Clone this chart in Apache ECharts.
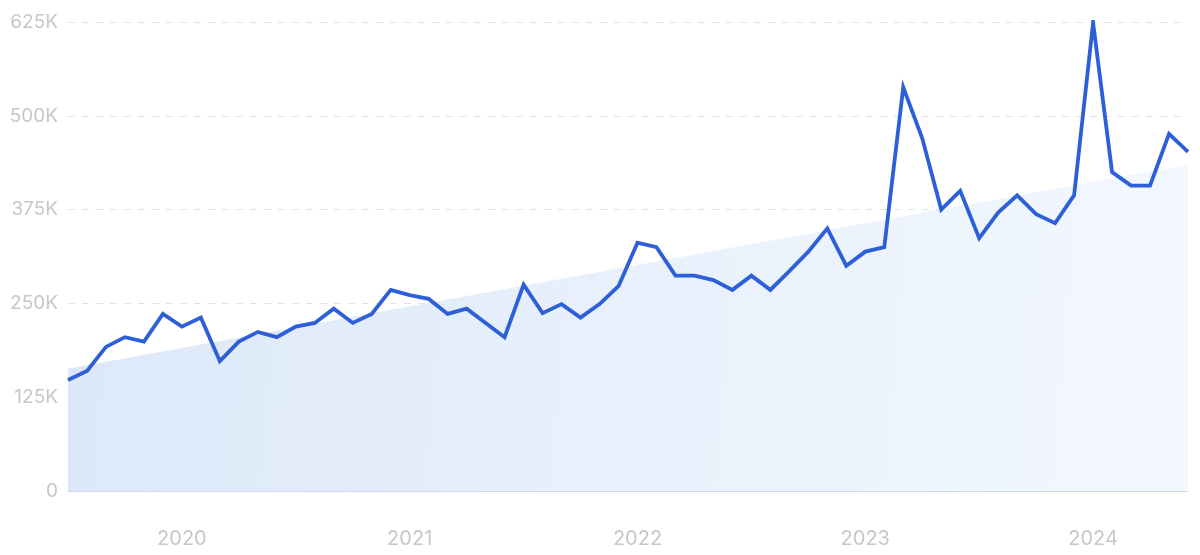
<!DOCTYPE html>
<html>
<head>
<meta charset="utf-8">
<script src="https://cdn.jsdelivr.net/npm/echarts@6/dist/echarts.min.js"></script>
<style>
html,body{margin:0;padding:0;background:#fff;}
#chart{width:1200px;height:555px;}
</style>
</head>
<body>
<div id="chart"></div>
<script>
// Months Jul 2019 .. Jun 2024
const months = [
  '2019-07','2019-08','2019-09','2019-10','2019-11','2019-12',
  '2020-01','2020-02','2020-03','2020-04','2020-05','2020-06','2020-07','2020-08','2020-09','2020-10','2020-11','2020-12',
  '2021-01','2021-02','2021-03','2021-04','2021-05','2021-06','2021-07','2021-08','2021-09','2021-10','2021-11','2021-12',
  '2022-01','2022-02','2022-03','2022-04','2022-05','2022-06','2022-07','2022-08','2022-09','2022-10','2022-11','2022-12',
  '2023-01','2023-02','2023-03','2023-04','2023-05','2023-06','2023-07','2023-08','2023-09','2023-10','2023-11','2023-12',
  '2024-01','2024-02','2024-03','2024-04','2024-05','2024-06'
];
const searches = [
  148000,160000,192000,205000,199000,236000,
  219000,231000,173000,199000,212000,205000,219000,224000,243000,224000,236000,268000,
  261000,256000,236000,243000,224000,205000,275000,237000,249000,231000,249000,273000,
  331000,325000,287000,287000,281000,268000,287000,268000,293000,319000,350000,300000,
  319000,325000,538000,470000,375000,400000,337000,371000,394000,369000,357000,394000,
  624000,425000,407000,407000,476000,452000
];
// Trend line endpoints
const trendStart = 163000;
const trendEnd = 435000;
const yTicks = [0,125000,250000,375000,500000,625000];

const trend = months.map((m,i)=> i===0 ? trendStart : (i===months.length-1 ? trendEnd : null));

const chart = echarts.init(document.getElementById('chart'), null, {renderer:'canvas'});
const font = 'Inter, "Noto Sans", sans-serif';
chart.setOption({
  animation:false,
  grid:{left:68,right:12,top:22,bottom:64,containLabel:false},
  xAxis:{
    type:'category',
    data:months,
    boundaryGap:false,
    axisLine:{show:true,lineStyle:{color:'#c9d9f3',width:1}},
    axisTick:{show:false},
    splitLine:{show:false},
    axisLabel:{
      interval:(idx,val)=>val.endsWith('-01'),
      formatter:(val)=>val.slice(0,4),
      color:'#c5c7cd',fontSize:20,fontFamily:font,margin:38
    }
  },
  yAxis:{
    type:'value',
    min:yTicks[0],max:yTicks[yTicks.length-1],interval:125000,
    axisLine:{show:false},axisTick:{show:false},
    splitLine:{show:true,lineStyle:{color:'#dfe4ec',type:[7,7],width:1}},
    axisLabel:{
      formatter:(v)=> v===0 ? '0' : (v/1000)+'K',
      color:'#c5c7cd',fontSize:19,fontFamily:font,margin:10
    }
  },
  series:[
    {
      type:'line',
      data:trend,
      connectNulls:true,
      symbol:'none',
      lineStyle:{width:0,opacity:0},
      areaStyle:{
        opacity:1,
        color:new echarts.graphic.LinearGradient(0,0,1,0.3,[
          {offset:0,color:'#dce8f9'},
          {offset:1,color:'#f3f8fe'}
        ])
      },
      z:1,
      silent:true
    },
    {
      type:'line',
      data:searches,
      symbol:'none',
      lineStyle:{color:'#2d5fd8',width:3.8,join:'miter'},
      z:3
    }
  ]
});
</script>
</body>
</html>
